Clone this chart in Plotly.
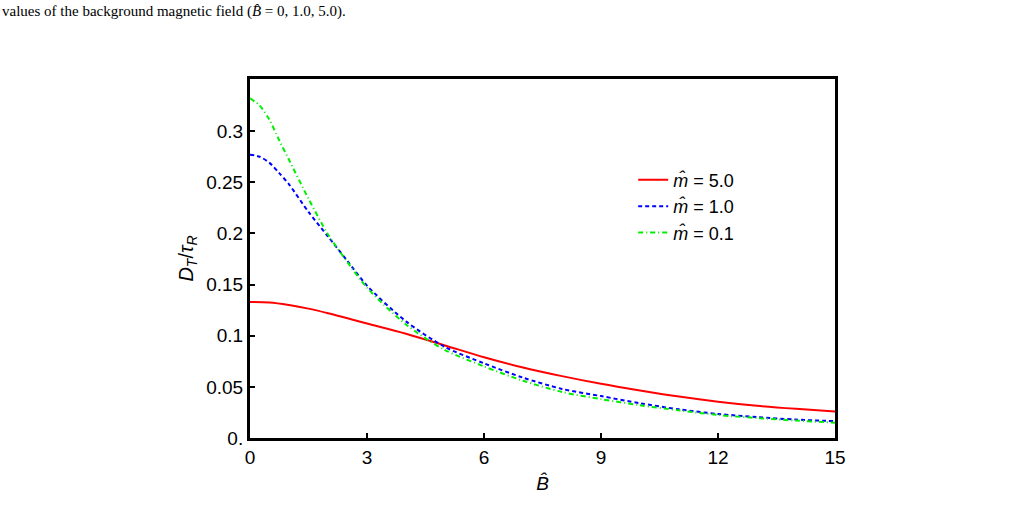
import plotly.graph_objects as go

# Data
B_red = [0, 0.5, 1, 1.5, 2, 2.5, 3, 4, 5, 6, 7, 8, 9, 10, 11, 12, 13, 14, 15]
D_red = [0.133, 0.1325, 0.130, 0.1265, 0.122, 0.117, 0.112, 0.102, 0.0905, 0.079,
         0.069, 0.0605, 0.053, 0.0465, 0.0405, 0.0355, 0.0315, 0.0285, 0.026]

B_blue = [0, 0.25, 0.5, 0.75, 1, 1.5, 2, 2.5, 3, 4, 5, 6, 7, 8, 9, 10, 11, 12, 13, 14, 15]
D_blue = [0.277, 0.275, 0.269, 0.259, 0.248, 0.221, 0.197, 0.173, 0.149, 0.114, 0.089,
          0.073, 0.059, 0.048, 0.041, 0.034, 0.028, 0.0235, 0.0205, 0.018, 0.0165]

B_green = [0, 0.25, 0.5, 0.75, 1, 1.5, 2, 2.5, 3, 4, 5, 6, 7, 8, 9, 10, 11, 12, 13, 14, 15]
D_green = [0.332, 0.325, 0.311, 0.291, 0.272, 0.234, 0.199, 0.172, 0.147, 0.111,
           0.086, 0.070, 0.056, 0.045, 0.038, 0.032, 0.027, 0.0225, 0.0195, 0.017, 0.015]

x_ticks = [0, 3, 6, 9, 12, 15]
y_ticks = [0, 0.05, 0.1, 0.15, 0.2, 0.25, 0.3]
y_ticktext = ["0.", "0.05", "0.1", "0.15", "0.2", "0.25", "0.3"]

labels = ["<i>m̂</i> = 5.0", "<i>m̂</i> = 1.0", "<i>m̂</i> = 0.1"]

fig = go.Figure()
fig.add_trace(go.Scatter(x=B_red, y=D_red, mode="lines", name=labels[0],
                         line=dict(color="#ff0000", width=2, shape="spline", smoothing=1.0)))
fig.add_trace(go.Scatter(x=B_blue, y=D_blue, mode="lines", name=labels[1],
                         line=dict(color="#0000ff", width=2, dash="4px,3px", shape="spline", smoothing=0.8)))
fig.add_trace(go.Scatter(x=B_green, y=D_green, mode="lines", name=labels[2],
                         line=dict(color="#00ee00", width=2, dash="5px,3px,1px,3px", shape="spline", smoothing=0.8)))

font_family = "Liberation Sans, Arial, sans-serif"

fig.update_layout(
    width=1026, height=523,
    margin=dict(l=250, r=191, t=79, b=85),
    paper_bgcolor="white", plot_bgcolor="white",
    font=dict(family=font_family, size=19, color="black"),
    showlegend=True,
    legend=dict(x=0.655, y=0.77, xanchor="left", yanchor="top",
                bgcolor="rgba(0,0,0,0)", font=dict(size=18), tracegroupgap=0),
    xaxis=dict(range=[0, 15], tickvals=x_ticks, ticks="inside", ticklen=5, tickwidth=2,
               tickcolor="black", showline=True, linecolor="black", linewidth=3,
               mirror=True, showgrid=False, zeroline=False, tickfont=dict(size=19),
               title=dict(text="<i>B̂</i>", standoff=10, font=dict(size=19))),
    yaxis=dict(range=[0, 0.351], tickvals=y_ticks, ticktext=y_ticktext, ticks="inside",
               ticklen=5, tickwidth=2, tickcolor="black", showline=True, linecolor="black",
               linewidth=3, mirror=True, showgrid=False, zeroline=False, tickfont=dict(size=19),
               title=dict(text="<i>D<sub>T</sub></i>/<i>τ<sub>R</sub></i>", standoff=8,
                          font=dict(size=20))),
)

fig.add_annotation(xref="paper", yref="paper", x=-250/585, y=1 + 67/359,
                   xanchor="left", yanchor="middle", showarrow=False,
                   text="values of the background magnetic field (<i>B̂</i> = 0, 1.0, 5.0).",
                   font=dict(family="Liberation Serif, serif", size=15, color="black"))

fig.write_html("out.html")
